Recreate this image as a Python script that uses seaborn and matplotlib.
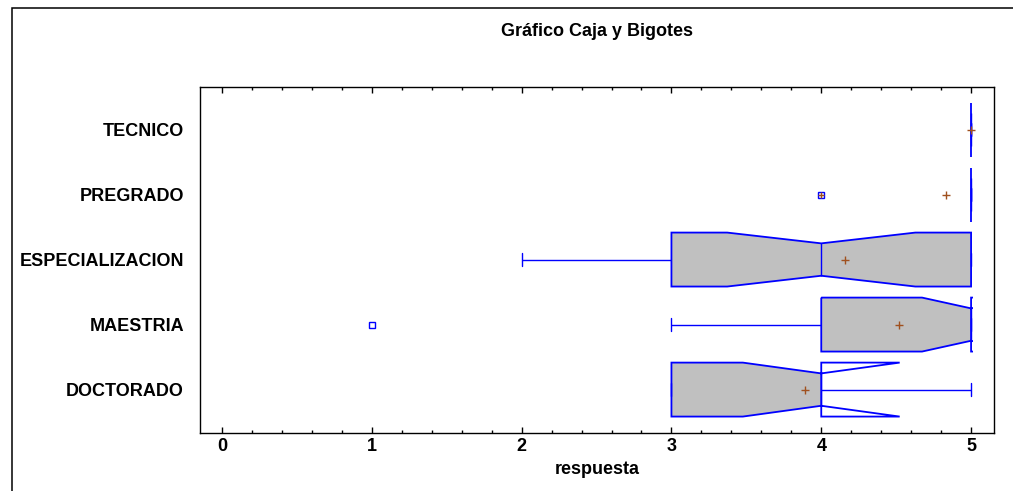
import numpy as np
import pandas as pd
import matplotlib
matplotlib.use("Agg")
import matplotlib.pyplot as plt
from matplotlib.patches import PathPatch, Rectangle
from matplotlib.path import Path
from matplotlib.ticker import MultipleLocator
import seaborn as sns

# ---- data (responses per education level) ----
niveles = ["TECNICO", "PREGRADO", "ESPECIALIZACION", "MAESTRIA", "DOCTORADO"]
tecnico = [5, 5, 5]
pregrado = [4, 5, 5, 5, 5, 5]
especializacion = [2] + [3] * 6 + [4] * 6 + [5] * 12
maestria = [1, 3] + [4] * 5 + [5] * 16
doctorado = [3, 3, 3, 4, 4, 4, 4, 5, 5]
x_ticks = [0, 1, 2, 3, 4, 5]
titulo = "Gráfico Caja y Bigotes"
x_label = "respuesta"

grupos = {
    "TECNICO": tecnico,
    "PREGRADO": pregrado,
    "ESPECIALIZACION": especializacion,
    "MAESTRIA": maestria,
    "DOCTORADO": doctorado,
}
df = pd.DataFrame(
    [(k, v) for k in niveles for v in grupos[k]], columns=["nivel", "respuesta"]
)

sns.set_style("white")
plt.rcParams["font.family"] = ["Liberation Sans", "DejaVu Sans"]
plt.rcParams["font.weight"] = "bold"
for k in ["text.color", "axes.labelcolor", "xtick.color", "ytick.color", "axes.edgecolor"]:
    plt.rcParams[k] = "black"

BLUE = "#0000FF"
GRAY = "#C0C0C0"
BROWN = "#A0501E"

fig = plt.figure(figsize=(10.13, 4.91), dpi=100)
ax = fig.add_axes([200 / 1013, 1 - 432.5 / 491, (994 - 200) / 1013, (432.5 - 87) / 491])

box_w = 0.83
sns.boxplot(
    data=df, x="respuesta", y="nivel", order=niveles, orient="y",
    notch=True, width=box_w, color=GRAY, saturation=1, linecolor=BLUE,
    linewidth=1.0, showmeans=True,
    meanprops=dict(marker="+", markeredgecolor=BROWN, markerfacecolor=BROWN,
                   markersize=6, markeredgewidth=1.0),
    flierprops=dict(marker="s", markersize=4, markerfacecolor="white",
                    markeredgecolor=BLUE, markeredgewidth=1.0),
    ax=ax,
)

notch_frac = 0.30  # half-height of the notch waist, as a fraction of box width
cap_half = 0.1     # half-length of whisker caps (category units)

# caps (zorder 2) get shorter; medians (zorder 2.1) span the notch waist
for line in ax.lines:
    xd = np.asarray(line.get_xdata(), dtype=float)
    yd = np.asarray(line.get_ydata(), dtype=float)
    if len(xd) == 2 and xd[0] == xd[1] and np.isclose(abs(yd[1] - yd[0]), 0.5 * box_w):
        c = yd.mean()
        if line.get_zorder() > 2.05:
            line.set_ydata([c - notch_frac * box_w, c + notch_frac * box_w])
        else:
            line.set_ydata([c - cap_half, c + cap_half])

# notch lobes outside the box stay unfilled; hide lobes beyond data range
boxes = [p for p in ax.patches if isinstance(p, PathPatch)]
for i, (name, patch) in enumerate(zip(niveles, boxes)):
    vals = np.asarray(grupos[name], dtype=float)
    q1, q3 = np.percentile(vals, [25, 75])
    path = patch.get_path()
    verts = path.vertices.copy()
    waist = np.isclose(np.abs(verts[:, 1] - i), 0.25 * box_w)
    verts[waist, 1] = i + np.sign(verts[waist, 1] - i) * notch_frac * box_w
    new_path = Path(verts, path.codes)
    patch.set_path(new_path)
    if np.ptp(verts[:, 0]) == 0:
        # degenerate box: a single line across the full box height
        edge_path = Path([[verts[0, 0], verts[:, 1].min()],
                          [verts[0, 0], verts[:, 1].max()]])
    else:
        edge_path = new_path
    edge = PathPatch(edge_path, facecolor="none", edgecolor=BLUE,
                     linewidth=1.3, zorder=patch.get_zorder() + 0.05)
    ax.add_patch(edge)
    lo, hi = vals.min(), vals.max()
    edge.set_clip_path(Rectangle((lo - 0.012, i - 1), hi - lo + 0.024, 2,
                                 transform=ax.transData))
    patch.set_clip_path(Rectangle((q1, i - 1), q3 - q1, 2, transform=ax.transData))
    patch.set_edgecolor("none")

# far outliers (beyond 3 IQR) get a '+' inside the square
for i, name in enumerate(niveles):
    vals = np.asarray(grupos[name], dtype=float)
    q1, q3 = np.percentile(vals, [25, 75])
    iqr = q3 - q1
    far = vals[(vals < q1 - 3 * iqr) | (vals > q3 + 3 * iqr)]
    if len(far):
        ax.plot(far, [i] * len(far), linestyle="none", marker="+",
                markeredgecolor=BROWN, markersize=4, markeredgewidth=1.0, zorder=3)

ax.set_xlim(-0.1467, 5.153)
ax.set_ylim(4.66, -0.654)
ax.set_xticks(x_ticks)
ax.xaxis.set_minor_locator(MultipleLocator(0.2))
ax.tick_params(axis="x", which="major", direction="in", top=True, bottom=True,
               length=4.5, width=1.0, labelsize=13, pad=4, color="black")
ax.tick_params(axis="x", which="minor", direction="in", top=True, bottom=True,
               length=2.2, width=1.0, color="black")
ax.tick_params(axis="y", length=0, labelsize=13, pad=11.5)
for lab in ax.get_xticklabels() + ax.get_yticklabels():
    lab.set_fontweight("bold")
for s in ax.spines.values():
    s.set_visible(True)
    s.set_color("black")
    s.set_linewidth(1.0)

ax.set_ylabel("")
ax.set_xlabel(x_label, fontsize=13, fontweight="bold", labelpad=4)
ax.set_title(titulo, fontsize=13, fontweight="bold", pad=37)

# outer frame around the chart (left and top visible)
frame = Rectangle((12 / 1013, -0.1), 1.2, 1.1 - 8 / 491, transform=fig.transFigure,
                  fill=False, edgecolor="black", linewidth=1.1)
fig.patches.append(frame)

fig.savefig("out.png", dpi=100)
